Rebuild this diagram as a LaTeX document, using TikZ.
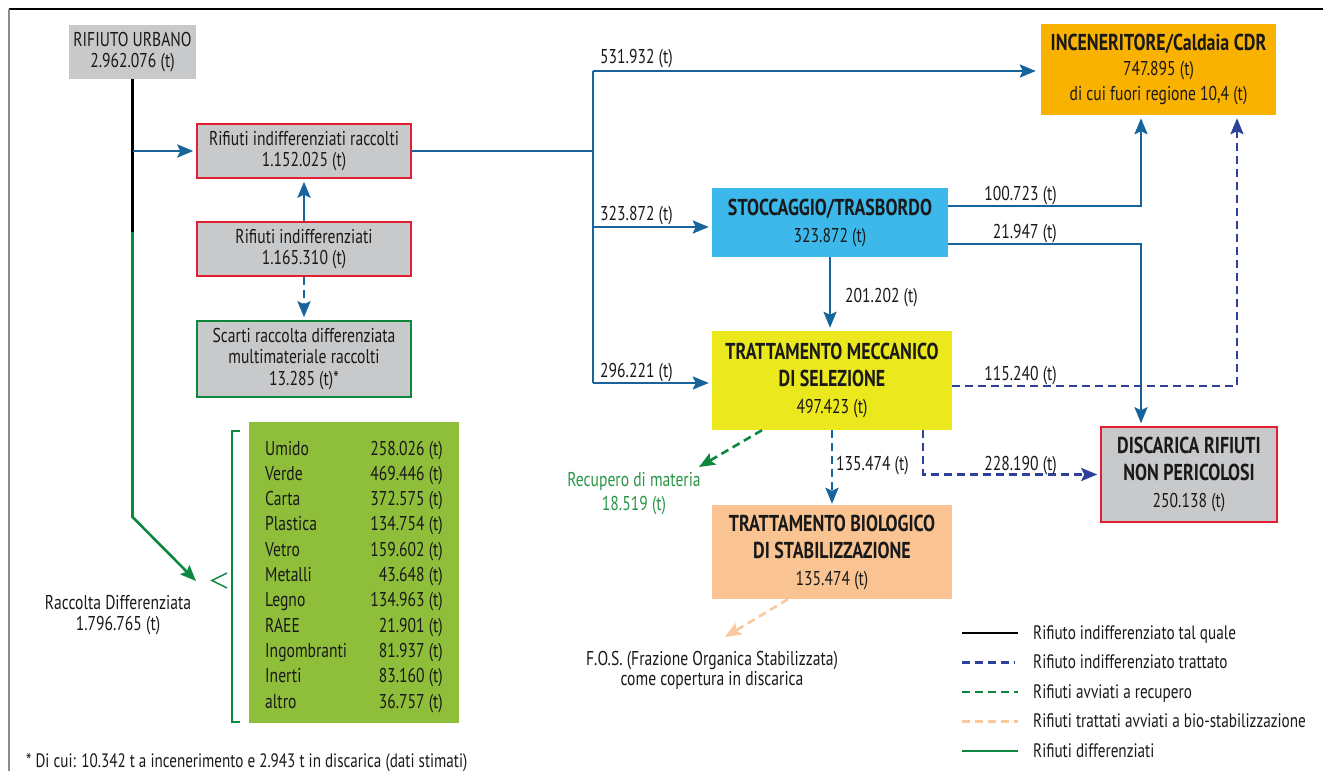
\documentclass[tikz,border=0pt]{standalone}
\usepackage{fontspec}
\setmainfont[FakeStretch=0.78]{PT Sans}
\usepackage{tikz}
\usetikzlibrary{arrows.meta,positioning,calc}

\definecolor{boxgray}{RGB}{200,201,203}
\definecolor{rfred}{RGB}{228,30,50}
\definecolor{rfgreen}{RGB}{12,135,62}
\definecolor{flowblue}{RGB}{22,100,155}
\definecolor{navy}{RGB}{45,65,155}
\definecolor{incorange}{RGB}{250,178,0}
\definecolor{stocccyan}{RGB}{60,184,234}
\definecolor{tmsyellow}{RGB}{236,232,30}
\definecolor{biolpeach}{RGB}{249,196,146}
\definecolor{peachline}{RGB}{250,200,155}
\definecolor{diffgreen}{RGB}{143,190,58}
\definecolor{recgreen}{RGB}{40,150,70}

\newcommand{\hdtext}[1]{{\fontsize{23}{27}\selectfont\bfseries #1}}

\begin{document}
\begin{tikzpicture}[
  x=1pt, y=-1pt,
  >={Stealth[length=16pt,width=13pt,inset=3pt]},
  every node/.style={font=\fontsize{20}{21.5}\selectfont, text=black!90, inner sep=0pt},
  box/.style={fill=boxgray, align=center},
  redbox/.style={box, draw=rfred, line width=1.5pt},
  bigbox/.style={align=center, font=\fontsize{20}{27}\selectfont},
  lbl/.style={font=\fontsize{20}{21.5}\selectfont},
  flow/.style={draw=flowblue, line width=2.6pt, shorten >=3pt},
  dashpat/.style={dash pattern=on 8pt off 5pt},
  treated/.style={draw=navy, line width=2.6pt, dashpat, shorten >=3pt},
  recov/.style={draw=rfgreen, line width=2.6pt, dashpat},
  biostab/.style={draw=peachline, line width=2.6pt, dashpat},
  rawline/.style={draw=black, line width=2.6pt},
  diffline/.style={draw=rfgreen, line width=2.6pt}
]
\useasboundingbox (0,0) rectangle (1323,771);
% frame
\draw[line width=1.5pt] (9,9) -- (1323,9);
\draw[black!45, line width=2pt] (9,9) -- (9,771);

% left column
\node[box, minimum width=127pt, minimum height=54pt] (urbano) at (132.5,52) {RIFIUTO URBANO\\2.962.076 (t)};
\node[redbox, minimum width=214pt, minimum height=54pt] (raccolti) at (304,151) {Rifiuti indifferenziati raccolti\\1.152.025 (t)};
\node[redbox, minimum width=214pt, minimum height=54pt] (indiff) at (304,249) {Rifiuti indifferenziati\\1.165.310 (t)};
\node[box, draw=rfgreen, line width=1.5pt, minimum width=214pt, minimum height=76pt] (scarti) at (304,359) {Scarti raccolta differenziata\\multimateriale raccolti\\13.285 (t)*};

% plants
\node[bigbox, fill=incorange, minimum width=235pt, minimum height=91pt, font=\fontsize{20}{25}\selectfont] (incen) at (1158.5,69.5) {\hdtext{INCENERITORE/Caldaia CDR}\\747.895 (t)\\di cui fuori regione 10,4 (t)};
\node[bigbox, fill=stocccyan, minimum width=236pt, minimum height=69pt] (stocc) at (830,222.5) {\hdtext{STOCCAGGIO/TRASBORDO}\\323.872 (t)};
\node[bigbox, fill=tmsyellow, minimum width=240pt, minimum height=99pt] (tms) at (832,380.5) {\hdtext{TRATTAMENTO MECCANICO}\\\hdtext{DI SELEZIONE}\\497.423 (t)};
\node[bigbox, fill=biolpeach, minimum width=240pt, minimum height=94pt] (biol) at (832,552) {\hdtext{TRATTAMENTO BIOLOGICO}\\\hdtext{DI STABILIZZAZIONE}\\135.474 (t)};
\node[bigbox, fill=boxgray, draw=rfred, line width=1.5pt, minimum width=176pt, minimum height=95pt] (disc) at (1189,474.5) {\hdtext{DISCARICA RIFIUTI}\\\hdtext{NON PERICOLOSI}\\250.138 (t)};

% raccolta differenziata
\node[fill=diffgreen, minimum width=210pt, minimum height=301pt] (diffbox) at (354,572.5) {};
\foreach \mat/\qty [count=\i from 0] in {Umido/258.026, Verde/469.446, Carta/372.575, Plastica/134.754, Vetro/159.602, Metalli/43.648, Legno/134.963, RAEE/21.901, Ingombranti/81.937, Inerti/83.160, altro/36.757}{
  \node[anchor=base west] (mat\i) at (265,455+25.3*\i) {\mat};
  \node[anchor=base east] (qty\i) at (443,455+25.3*\i) {\qty~(t)};
}
\draw[rfgreen, line width=1.5pt] (240,431) -- (232,431) -- (232,722) -- (240,722);
\draw[rfgreen, line width=1.5pt] (227,573) -- (212,580.5) -- (227,588);
\node[align=center] (rdlabel) at (118,615) {Raccolta Differenziata\\1.796.765 (t)};

% free ends
\coordinate (rdstart) at (132.5,232);
\coordinate (rdturn) at (132.5,517);
\coordinate (rdtip) at (196,581);
\coordinate (trunk) at (593,151);
\coordinate (trunktop) at (593,71);
\coordinate (trunkbot) at (593,383);
\coordinate (rectip) at (699,467);
\coordinate (fostip) at (725,637);

% connectors
\draw[rawline] (urbano.south) -- (rdstart);
\draw[diffline, ->] (rdstart) -- (rdturn) -- (rdtip);
\draw[flow, ->] (urbano.south |- raccolti.west) -- (raccolti.west);
\draw[flow, ->] (indiff.north) -- (raccolti.south);
\draw[flow, dashpat, ->] (indiff.south) -- (scarti.north);
\draw[flow, shorten >=0pt] (raccolti.east) -- (trunk);
\draw[flow, shorten >=0pt] (trunktop) -- (trunkbot);
\draw[flow, ->, shorten >=5pt] (trunktop) -- (incen.west |- trunktop);
\draw[flow, ->] (trunk |- 0,227) -- (stocc.west |- 0,227);
\draw[flow, ->] (trunkbot) -- (tms.west |- trunkbot);
\draw[flow, ->] (stocc.south) -- (stocc.south |- tms.north);
\draw[flow, ->] ([yshift=16.5pt]stocc.east) -| ([xshift=-17.5pt]incen.south);
\draw[flow, ->] ([yshift=-21.5pt]stocc.east) -| ([xshift=-48pt]disc.north);
\draw[treated, ->] ([yshift=-5.5pt]tms.east) -| ([xshift=78.5pt]incen.south);
\draw[treated, ->] ([xshift=91pt]tms.south) |- (disc.west);
\draw[flow, dashpat, ->, shorten >=1pt] (tms.south) -- (biol.north);
\draw[recov, ->] ([xshift=-70pt]tms.south) -- (rectip);
\draw[biostab, ->] ([xshift=-44pt]biol.south) -- (fostip);

% quantities
\node[lbl, anchor=base west] (q531) at (600,63) {531.932 (t)};
\node[lbl, anchor=base west] (q323) at (600,220) {323.872 (t)};
\node[lbl, anchor=base west] (q296) at (600,377) {296.221 (t)};
\node[lbl, anchor=base west] (q201) at (845,302) {201.202 (t)};
\node[lbl, anchor=base east] (q100) at (1057,200) {100.723 (t)};
\node[lbl, anchor=base east] (q21) at (1057,238) {21.947 (t)};
\node[lbl, anchor=base east] (q115) at (1057,380) {115.240 (t)};
\node[lbl, anchor=base east] (q228) at (1057,470) {228.190 (t)};
\node[lbl, anchor=base west] (q135) at (836,470) {135.474 (t)};

\node[align=center, text=recgreen, font=\fontsize{20}{24}\selectfont] (recupero) at (634,493.5) {Recupero di materia\\18.519 (t)};
\node[align=center, font=\fontsize{20}{20}\selectfont] (fos) at (712,670) {F.O.S. (Frazione Organica Stabilizzata)\\come copertura in discarica};

% legend
\foreach \sty/\txt [count=\i from 0] in {rawline/Rifiuto indifferenziato tal quale, treated/Rifiuto indifferenziato trattato, recov/Rifiuti avviati a recupero, biostab/Rifiuti trattati avviati a bio-stabilizzazione, diffline/Rifiuti differenziati}{
  \draw[\sty] (962,633+29.5*\i) -- (1018,633+29.5*\i);
  \node[anchor=base west, font=\fontsize{19.5}{21}\selectfont] (key\i) at (1033,639+29.5*\i) {\txt};
}

\node[anchor=base west, font=\fontsize{19.4}{21}\selectfont] (nota) at (26,767) {* Di cui: 10.342 t a incenerimento e 2.943 t in discarica (dati stimati)};
\end{tikzpicture}
\end{document}
